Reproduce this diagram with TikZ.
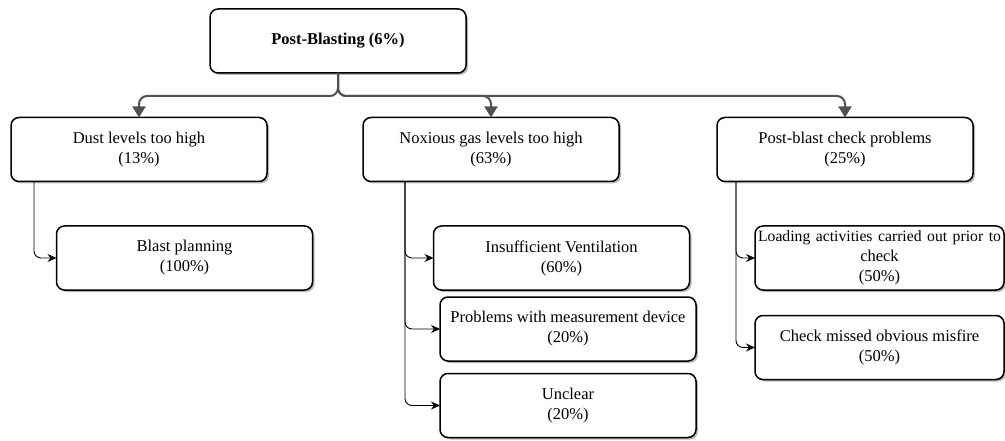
\documentclass[tikz,border=0pt]{standalone}
\usepackage{fontspec}
\setmainfont{Liberation Serif}
\usetikzlibrary{arrows.meta, shadows, positioning}

\tikzset{
  box/.style={draw, rounded corners=8pt, line width=1.5pt, fill=white,
    minimum width=256pt, minimum height=64pt, align=center, outer sep=0pt,
    font=\fontsize{16.5}{20}\selectfont,
    drop shadow={shadow xshift=2pt, shadow yshift=-2pt, fill=black!45, opacity=.6}},
  toparrow/.style={draw=black!68, line width=2pt, rounded corners=8pt,
    -{Triangle[width=13pt,length=11pt]}},
  subarrow/.style={draw=black, line width=.9pt, rounded corners=7pt,
    -{Stealth[width=8pt,length=9pt]}}
}

\begin{document}
\begin{tikzpicture}[x=1pt, y=-1pt]
\useasboundingbox (0,0) rectangle (1005,441);

% first and second level
\node[box] (root) at (338,41) {\bfseries Post-Blasting (6\%)};
\node[box] (dust) at (139,149.5) {Dust levels too high\\(13\%)};
\node[box] (gas)  at (491,149.5) {Noxious gas levels too high\\(63\%)};
\node[box] (check) at (845,149.5) {Post-blast check problems\\(25\%)};

% causes
\node[box] (planning) at (184.5,258) {Blast planning\\(100\%)};
\node[box] (ventilation) at (561.5,258) {Insufficient Ventilation\\(60\%)};
\node[box] (device) at (568,329) {Problems with measurement device\\(20\%)};
\node[box] (unclear) at (568,405.5) {Unclear\\(20\%)};
\node[box, minimum width=249pt, text width=245pt, inner xsep=2pt] (loading) at (879.5,258)
  {\mbox{\fontsize{15.7}{20}\selectfont Loading activities carried out prior to}\\check\\(50\%)};
\node[box, minimum width=249pt] (misfire) at (879.5,347.5) {Check missed obvious misfire\\(50\%)};

\coordinate (split) at (338,96);

\draw[toparrow] (root.south) -- (split) -| (dust.north);
\draw[toparrow] (root.south) -- (split) -| (gas.north);
\draw[toparrow] (root.south) -- (split) -| (check.north);

\draw[subarrow] ([xshift=23pt]dust.south west) |- (planning.west);
\draw[subarrow] ([xshift=42pt]gas.south west) |- (ventilation.west);
\draw[subarrow] ([xshift=42pt]gas.south west) |- (device.west);
\draw[subarrow] ([xshift=42pt]gas.south west) |- (unclear.west);
\draw[subarrow] ([xshift=19pt]check.south west) |- (loading.west);
\draw[subarrow] ([xshift=19pt]check.south west) |- (misfire.west);

\end{tikzpicture}
\end{document}
